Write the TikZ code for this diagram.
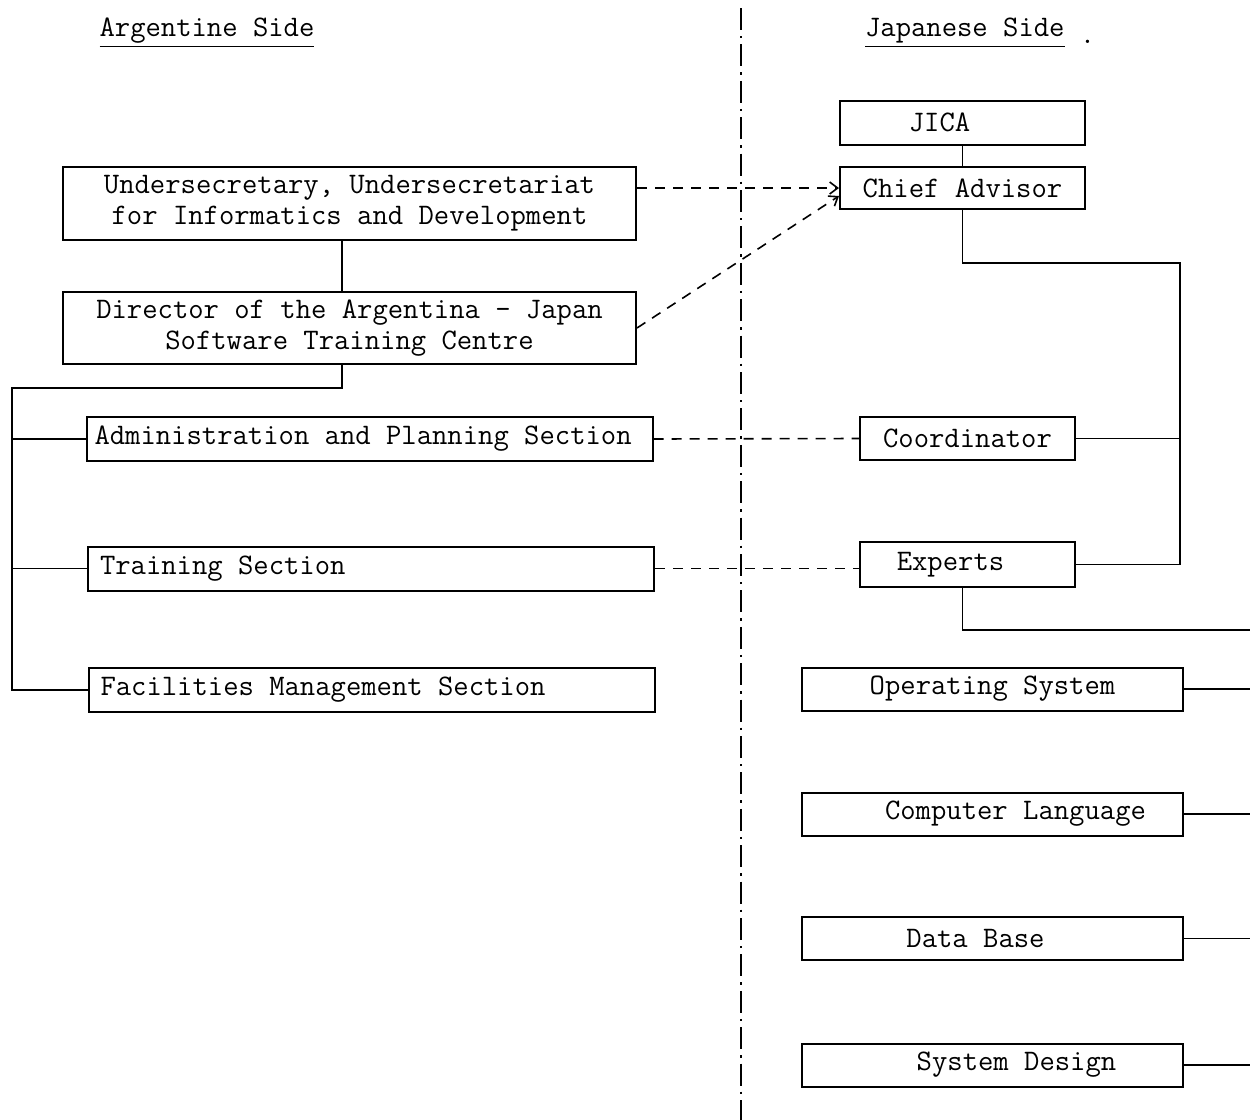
\documentclass[tikz,border=0pt]{standalone}
\usepackage{fontspec}
\usetikzlibrary{arrows.meta,positioning}
\newcommand{\typew}{\fontsize{14.9}{15.5}\selectfont\ttfamily}
\newcommand{\lefttext}[1]{\makebox[275pt][l]{#1}}

\begin{document}
\begin{tikzpicture}[
    x=0.5pt, y=-0.5pt,
    >={Straight Barb[length=4pt,width=6pt]},
    orgbox/.style={draw, line width=1pt, font=\typew, inner xsep=4pt, inner ysep=2pt},
    sectbox/.style={orgbox, minimum height=22pt},
    jbox/.style={orgbox, minimum width=122.5pt, minimum height=22pt},
    fieldbox/.style={orgbox, minimum width=190.5pt, minimum height=21.5pt},
    link/.style={line width=0.8pt},
    dashlink/.style={line width=0.8pt, dash pattern=on 5pt off 4pt},
    divider/.style={line width=1.2pt, dash pattern=on 11pt off 3pt on 1.2pt off 3pt},
  ]
  \useasboundingbox (0,0) rectangle (1250,1120);

  % Headings
  \node[font=\typew] (argside) at (207,33) {\underline{Argentine Side}};
  \node[font=\typew, anchor=west] (japside) at (858,33)
    {\underline{Japanese Side} \raisebox{-3.5pt}{.}};

  % Side divider
  \draw[divider] (741,8) -- (741,1120);

  % Argentine side
  \node[orgbox, minimum width=286.5pt, minimum height=36.5pt, align=center] (under)
    at (349.5,203.5) {Undersecretary, Undersecretariat\\for Informatics and Development};
  \node[orgbox, minimum width=286.5pt, minimum height=36pt, align=center] (director)
    at (349.5,328) {Director of the Argentina - Japan\\Software Training Centre};
  \node[sectbox] (admin) at (369.5,439) {\lefttext{Administration and Planning Section}};
  \node[sectbox] (training) at (371,568.5) {\lefttext{\hspace*{2pt}Training Section}};
  \node[sectbox] (facil) at (371.5,690) {\lefttext{\hspace*{2pt}Facilities Management Section}};

  % Japanese side
  \node[jbox] (jica) at (962.5,122.5) {JICA\hspace*{23pt}};
  \node[jbox, minimum height=21pt] (chief) at (962.5,188) {Chief Advisor};
  \node[orgbox, minimum width=107.5pt, minimum height=21.5pt] (coord)
    at (967.5,438.5) {Coordinator};
  \node[orgbox, minimum width=107.5pt, minimum height=22.5pt] (experts)
    at (967.5,564.5) {Experts\hspace*{17pt}};
  \node[fieldbox] (os) at (992.5,689) {Operating System};
  \node[fieldbox] (lang) at (992.5,814) {\hspace*{23pt}Computer Language};
  \node[fieldbox] (db) at (992.5,938.5) {Data Base\hspace*{17pt}};
  \node[fieldbox] (design) at (992.5,1065) {\hspace*{24pt}System Design};

  % Argentine hierarchy
  \coordinate (trunk) at (342,388);
  \coordinate (spine) at (12,388);
  \draw[link] (under.south -| trunk) -- (director.north -| trunk);
  \draw[link] (director.south -| trunk) -- (trunk) -- (spine) |- (facil.west);
  \draw[link] (spine |- admin.west) -- (admin.west);
  \draw[link] (spine |- training.west) -- (training.west);

  % Japanese hierarchy
  \coordinate (jbus) at (1180,263);
  \coordinate (fbus) at (1250,630);
  \draw[link] (jica) -- (chief);
  \draw[link] (chief.south) |- (jbus) |- (experts.east);
  \draw[link] (coord.east) -- (coord.east -| jbus);
  \draw[link] (experts.south -| chief.south) |- (fbus);
  \foreach \f in {os,lang,db,design}
    \draw[link] (\f.east) -- (\f.east -| fbus);

  % Counterpart links
  \draw[dashlink, ->] (under.east |- chief.west) -- (chief.west);
  \draw[dashlink, ->] (director.east) -- ([yshift=-4pt]chief.west);
  \draw[dashlink] (admin.east) -- (coord.west);
  \draw[dashlink] (training.east) -- (training.east -| experts.west);

\end{tikzpicture}
\end{document}
